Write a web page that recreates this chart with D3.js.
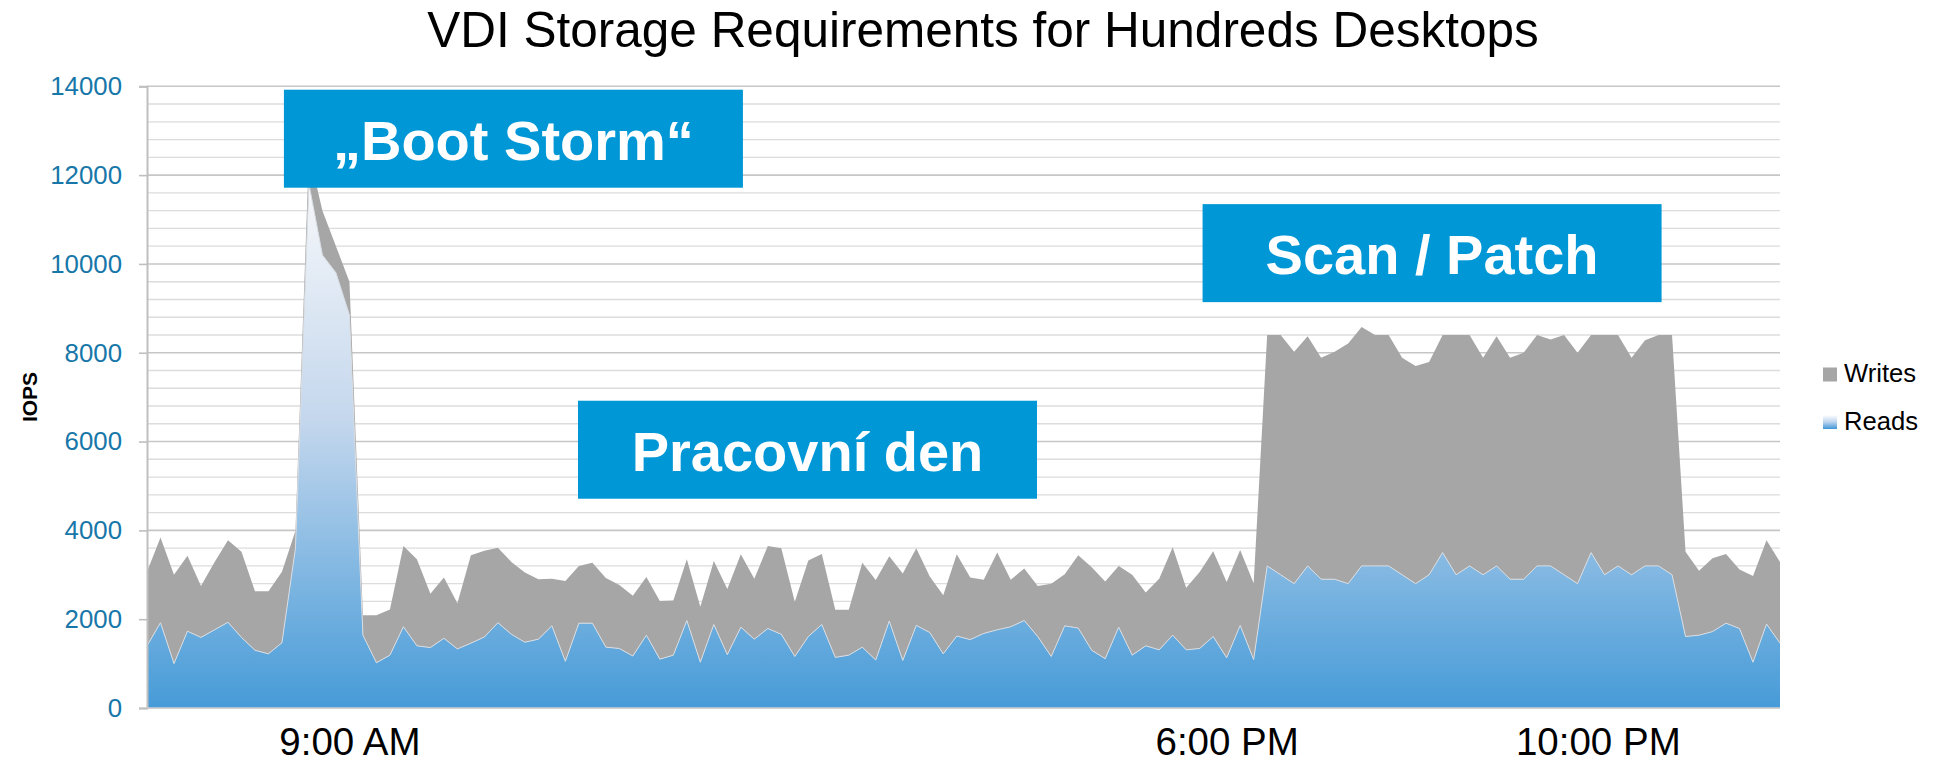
<!DOCTYPE html>
<html>
<head>
<meta charset="utf-8">
<script src="https://cdn.jsdelivr.net/npm/d3@7"></script>
<style>
  body { margin: 0; background: #ffffff; }
  svg { display: block; }
  text { font-family: "Liberation Sans", Arial, Helvetica, sans-serif; }
</style>
</head>
<body>
<svg id="chart" width="1934" height="763"></svg>
<script>
// IOPS per sampling slot over one working day
const reads = [
  1400,1920,1000,1730,1590,1760,1930,1590,1300,1220,1470,3600,11800,10200,9800,8850,1640,1020,1190,1830,1400,1360,1570,1330,1460,1600,1920,1660,1480,1550,
  1850,1050,1910,1910,1370,1340,1170,1640,1100,1190,1970,1030,1880,1200,1820,1550,1790,1660,1160,1610,1880,1140,1190,1370,1080,1960,1070,1860,1700,1220,
  1620,1540,1680,1760,1830,1970,1610,1160,1850,1800,1300,1110,1820,1190,1400,1310,1640,1310,1340,1610,1130,1860,1090,
  3200,3000,2800,3200,2900,2900,2800,3200,3200,3200,3000,2800,3000,3500,3000,3200,3000,3200,2900,2900,3200,3200,3000,2800,3500,3000,3200,3000,3200,3200,3000,
  1610,1640,1720,1910,1790,1030,1890,1460
];
const writes = [
  1670,1920,2000,1700,1160,1520,1850,1930,1330,1410,1600,390,700,1000,600,750,450,1070,1030,1820,1950,1210,1370,1030,1980,1940,1690,1630,1570,1350,
  1060,1810,1290,1360,1560,1430,1360,1310,1310,1230,1380,1250,1430,1480,1640,1360,1860,1940,1230,1710,1590,1070,1020,1900,1800,1460,1960,1740,1260,1320,
  1840,1400,1210,1740,1060,1170,1140,1640,1160,1640,1870,1740,1380,1810,1200,1600,1980,1400,1720,1920,1710,1700,1720,
  5200,5400,5220,5170,4990,5120,5410,5380,5200,5200,4890,4900,4790,4900,5400,5200,4890,5170,4990,5100,5200,5100,5400,5200,4900,5400,5200,4890,5080,5200,5400,
  1910,1450,1650,1560,1330,1940,1890,1830
];
const slots = reads.map((_, i) => i);
const seriesNames = ["Reads", "Writes"];
const tickLabels = ["9:00 AM", "6:00 PM", "10:00 PM"];
const tickSlots = [15, 80, 107.5];
const yMax = 14000;
const callouts = ["\u201EBoot Storm\u201C", "Pracovn\u00ED den", "Scan / Patch"];

// ---- layout ----
const plot = { left: 147, right: 1780, top: 86.3, bottom: 708 };
const FONT = '"Liberation Sans", Arial, Helvetica, sans-serif';
const svg = d3.select("#chart");

const x = d3.scaleLinear().domain([0, slots.length - 1]).range([plot.left, plot.right]);
const y = d3.scaleLinear().domain([0, yMax]).range([plot.bottom, plot.top]);

// gradients
const defs = svg.append("defs");
function vGradient(id, stops) {
  const g = defs.append("linearGradient").attr("id", id)
    .attr("x1", 0).attr("y1", 0).attr("x2", 0).attr("y2", 1);
  stops.forEach(([o, c]) => g.append("stop").attr("offset", o).attr("stop-color", c));
}
vGradient("readsFill", [[0, "#f7f8fa"], [0.45, "#c4d7ed"], [1, "#469bd8"]]);
vGradient("readsSwatch", [[0, "#ffffff"], [0.5, "#bcd4ee"], [1, "#3f95d6"]]);

// title
svg.append("text")
  .attr("x", 983).attr("y", 47)
  .attr("text-anchor", "middle")
  .attr("font-size", 49.5)
  .attr("fill", "#000")
  .text("VDI Storage Requirements for Hundreds Desktops");

// gridlines: minor every 400, major every 2000
const minorTicks = d3.range(0, yMax + 1, 400).filter(v => v % 2000 !== 0);
const majorTicks = d3.range(0, yMax + 1, 2000);

const grid = svg.append("g");
grid.selectAll("line.minor").data(minorTicks).join("line")
  .attr("class", "minor")
  .attr("x1", plot.left).attr("x2", plot.right)
  .attr("y1", d => y(d)).attr("y2", d => y(d))
  .attr("stroke", "#dcdcdc").attr("stroke-width", 1.4);
grid.selectAll("line.major").data(majorTicks).join("line")
  .attr("class", "major")
  .attr("x1", plot.left).attr("x2", plot.right)
  .attr("y1", d => y(d)).attr("y2", d => y(d))
  .attr("stroke", "#c6c6c6").attr("stroke-width", 1.6);

// stacked areas
const rows = slots.map(i => ({ slot: i, Reads: reads[i], Writes: writes[i] }));
const stacked = d3.stack().keys(seriesNames)(rows);
const area = d3.area()
  .x(d => x(d.data.slot))
  .y0(d => y(d[0]))
  .y1(d => y(d[1]));

const fills = { Reads: "url(#readsFill)", Writes: "#a6a6a6" };
svg.append("g").selectAll("path").data(stacked).join("path")
  .attr("d", area)
  .attr("fill", d => fills[d.key]);

// thin border along the top of the reads layer
const readsLine = d3.line().x(d => x(d.data.slot)).y(d => y(d[1]));
svg.append("path")
  .attr("d", readsLine(stacked[0]))
  .attr("fill", "none")
  .attr("stroke", "#d8dde3")
  .attr("stroke-width", 1);

// y axis
const yAxis = svg.append("g")
  .attr("transform", `translate(${plot.left},0)`)
  .call(d3.axisLeft(y).tickValues(majorTicks).tickSize(8).tickPadding(17).tickFormat(d3.format("d")));
yAxis.select(".domain").attr("stroke", "#bfbfbf").attr("stroke-width", 2);
yAxis.selectAll(".tick line").attr("stroke", "#bfbfbf").attr("stroke-width", 1.6);
yAxis.selectAll(".tick text")
  .attr("font-family", FONT).attr("font-size", 25.8).attr("fill", "#1777a9");

// baseline
svg.append("line")
  .attr("x1", plot.left).attr("x2", plot.right)
  .attr("y1", y(0)).attr("y2", y(0))
  .attr("stroke", "#cfcfcf").attr("stroke-width", 1.6);

// y axis title
svg.append("text")
  .attr("transform", `translate(37,397) rotate(-90)`)
  .attr("text-anchor", "middle")
  .attr("font-size", 21).attr("font-weight", "bold").attr("fill", "#000")
  .text("IOPS");

// x axis labels
const xAxis = svg.append("g")
  .attr("transform", `translate(0,${plot.bottom})`)
  .call(d3.axisBottom(x).tickValues(tickSlots).tickSize(0).tickFormat((d, i) => tickLabels[i]));
xAxis.select(".domain").remove();
xAxis.selectAll(".tick text")
  .attr("font-family", FONT).attr("font-size", 38.5).attr("fill", "#000")
  .attr("dy", null).attr("y", 46.5);

// callout boxes, centred on positions in data space
const calloutAt = [
  { slot: 27.15, value: 12820 },
  { slot: 48.94, value: 5816 },
  { slot: 95.22, value: 10243 }
];
const boxW = 459, boxH = 98;
const cg = svg.append("g");
callouts.forEach((label, i) => {
  const cx = x(calloutAt[i].slot), cy = y(calloutAt[i].value);
  cg.append("rect")
    .attr("x", cx - boxW / 2).attr("y", cy - boxH / 2)
    .attr("width", boxW).attr("height", boxH)
    .attr("fill", "#0097d6");
  cg.append("text")
    .attr("x", cx).attr("y", cy + 21)
    .attr("text-anchor", "middle")
    .attr("font-size", 56).attr("font-weight", "bold").attr("fill", "#ffffff")
    .text(label);
});

// legend
const legendItems = [
  { name: "Writes", fill: "#a6a6a6", y: 367.5 },
  { name: "Reads", fill: "url(#readsSwatch)", y: 415 }
];
const lg = svg.append("g");
legendItems.forEach(it => {
  lg.append("rect").attr("x", 1823).attr("y", it.y).attr("width", 14).attr("height", 14).attr("fill", it.fill);
  lg.append("text").attr("x", 1844).attr("y", it.y + 14.5)
    .attr("font-size", 25.6).attr("fill", "#000").text(it.name);
});
</script>
</body>
</html>
